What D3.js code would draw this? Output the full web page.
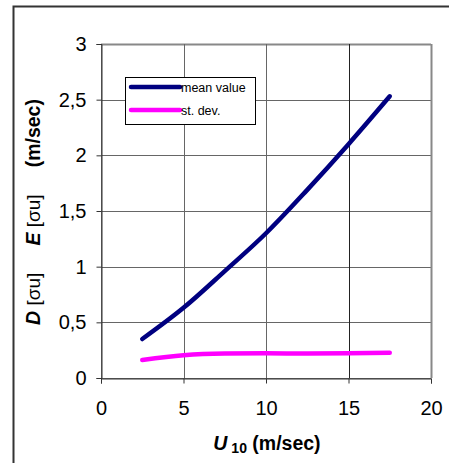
<!DOCTYPE html>
<html><head><meta charset="utf-8">
<script src="https://cdn.jsdelivr.net/npm/d3@7"></script>
<style>body{margin:0;background:#fff}svg{display:block;font-family:Arial,"Liberation Sans",sans-serif}</style>
</head><body>
<svg id="c" width="449" height="463"></svg>
<script>
const xValues = [2.5, 5, 7.5, 10, 12.5, 15, 17.5];
const meanValue = [0.35, 0.63, 0.96, 1.30, 1.69, 2.10, 2.53];
const stDev = [0.162, 0.205, 0.220, 0.222, 0.220, 0.222, 0.227];
const xTicks = [0, 5, 10, 15, 20];
const yTicks = [0, 0.5, 1, 1.5, 2, 2.5, 3];
const seriesNames = ["mean value", "st. dev."];
const seriesColors = ["#000080", "#ff00ff"];

const svg = d3.select("#c");
const m = {l: 101, r: 431, t: 44, b: 378};
const x = d3.scaleLinear().domain([0, 20]).range([m.l, m.r]);
const y = d3.scaleLinear().domain([0, 3]).range([m.b, m.t]);

// outer frame
svg.append("path").attr("d", `M13.5,463 L13.5,6.5 L449,6.5`).attr("fill", "none").attr("stroke", "#333").attr("stroke-width", 2);

// gridlines
const g = svg.append("g");
g.selectAll(".hg").data(yTicks).join("line")
  .attr("x1", m.l).attr("x2", m.r).attr("y1", d => Math.round(y(d)) + 0.5).attr("y2", d => Math.round(y(d)) + 0.5)
  .attr("stroke", d => d === 3 ? "#888" : "#666").attr("stroke-width", d => d === 3 ? 2 : 1);
g.selectAll(".vg").data(xTicks).join("line")
  .attr("y1", m.t).attr("y2", m.b).attr("x1", d => Math.round(x(d)) + 0.5).attr("x2", d => Math.round(x(d)) + 0.5)
  .attr("stroke", d => d === 20 ? "#888" : (d === 15 ? "#222" : "#666")).attr("stroke-width", d => d === 20 ? 2 : 1);

// axes
const ya = svg.append("g").attr("transform", `translate(${m.l + 0.5},0)`)
  .call(d3.axisLeft(y).tickValues(yTicks).tickSize(5).tickPadding(10).tickFormat(d => String(d).replace(".", ",")));
const xa = svg.append("g").attr("transform", `translate(0,${m.b + 0.5})`)
  .call(d3.axisBottom(x).tickValues(xTicks).tickSize(5).tickPadding(17).tickFormat(d => d));
[ya, xa].forEach(a => {
  a.selectAll("path").attr("stroke", "#333");
  a.selectAll("line").attr("stroke", "#333");
  a.selectAll("text").attr("font-size", 20).attr("fill", "#000").attr("font-family", "Arial, Liberation Sans, sans-serif");
});

// lines
const line = d3.line().x((d, i) => x(xValues[i])).y(d => y(d)).curve(d3.curveMonotoneX);
[meanValue, stDev].forEach((s, i) => {
  svg.append("path").attr("d", line(s)).attr("fill", "none")
    .attr("stroke", seriesColors[i]).attr("stroke-width", 4.5).attr("stroke-linecap", "round");
});

// legend
const lg = svg.append("g");
lg.append("rect").attr("x", 125.5).attr("y", 77.5).attr("width", 130).attr("height", 47)
  .attr("fill", "#fff").attr("stroke", "#000").attr("stroke-width", 1);
seriesNames.forEach((n, i) => {
  const yy = 87 + i * 23;
  lg.append("line").attr("x1", 131).attr("x2", 180).attr("y1", yy).attr("y2", yy)
    .attr("stroke", seriesColors[i]).attr("stroke-width", 4.5).attr("stroke-linecap", "round");
  lg.append("text").attr("x", 181).attr("y", yy + 5).attr("font-size", 12.5).text(n);
});

// x title
const xt = svg.append("text").attr("x", 267).attr("y", 450).attr("text-anchor", "middle")
  .attr("font-size", 19.5).attr("font-weight", "bold");
xt.append("tspan").attr("font-style", "italic").text("U");
xt.append("tspan").attr("font-size", 14).attr("dy", 3).text(" 10");
xt.append("tspan").attr("dy", -3).text(" (m/sec)");

// y title
const yt = svg.append("text").attr("transform", "translate(40,212) rotate(-90)").attr("text-anchor", "middle")
  .attr("font-size", 19.5).attr("font-weight", "bold");
yt.append("tspan").attr("font-style", "italic").text("D");
yt.append("tspan").attr("font-weight", "normal").attr("font-size", 19).text("\u00a0[σu]");
yt.append("tspan").attr("font-style", "italic").text("\u00a0\u00a0\u00a0\u00a0\u00a0E");
yt.append("tspan").attr("font-weight", "normal").attr("font-size", 19).text("\u00a0[σu]");
yt.append("tspan").text("\u00a0\u00a0\u00a0\u00a0\u00a0(m/sec)");
</script>
</body></html>
